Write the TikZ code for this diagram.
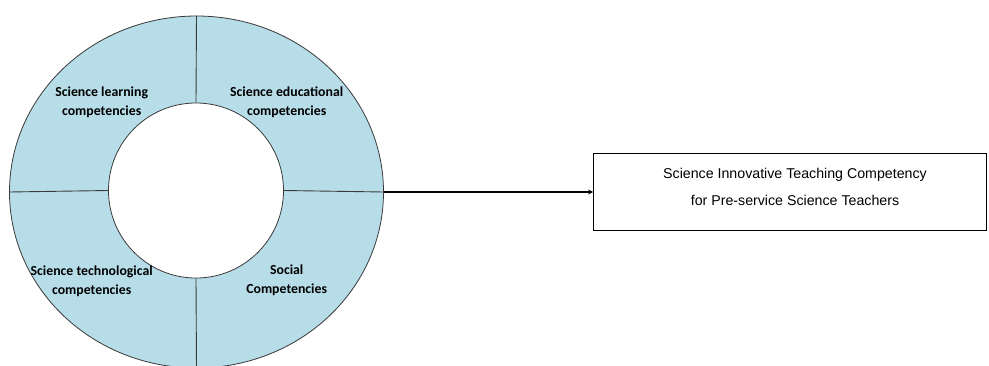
\documentclass[tikz,border=0pt]{standalone}
\usepackage{fontspec}
\setmainfont{Carlito}
\newfontfamily\arialfont{Liberation Sans}
\usetikzlibrary{shapes.geometric,arrows.meta}
\definecolor{ringblue}{HTML}{B7DDE8}
\definecolor{ringline}{HTML}{3A3A3A}
\tikzset{
  seglabel/.style={font=\bfseries\fontsize{13.8}{19.3}\selectfont, align=center, text=black, inner sep=0pt},
  divider/.style={draw=ringline, line width=0.9pt},
  boxtext/.style={font=\arialfont\fontsize{14.2}{27}\selectfont, align=center, inner sep=0pt},
}
\begin{document}
\begin{tikzpicture}[x=1pt,y=-1pt]
\useasboundingbox (0,0) rectangle (989,365);
\fill[white] (0,0) rectangle (989,365);
\node[ellipse, minimum width=374pt, minimum height=352pt, inner sep=0pt, fill=ringblue, draw=ringline, line width=0.8pt] (ring) at (196.5,192) {};
\node[circle, minimum size=175pt, inner sep=0pt, fill=white, draw=ringline, line width=0.8pt] (hole) at (196,190.5) {};
\draw[divider] (ring.north) -- (hole.north);
\draw[divider] (hole.south) -- (ring.south);
\draw[divider] (ring.west) -- (hole.west);
\draw[divider] (hole.east) -- (ring.east);
\node[seglabel] (learn) at (101.7,102) {Science learning\\competencies};
\node[seglabel] (edu) at (286.7,102) {Science educational\\competencies};
\node[seglabel] (tech) at (91.7,281) {Science technological\\competencies};
\node[seglabel] (social) at (286.7,280) {Social\\Competencies};
\node[draw=black, line width=1.2pt, minimum width=393pt, minimum height=76.5pt, inner sep=0pt] (box) at (790.2,192) {};
\node[boxtext] (title) at (795,186.5) {Science Innovative Teaching Competency\\for Pre-service Science Teachers};
\draw[line width=2.2pt, -{Stealth[length=5pt,width=5pt]}] (ring.east) -- (box.west);
\end{tikzpicture}
\end{document}
